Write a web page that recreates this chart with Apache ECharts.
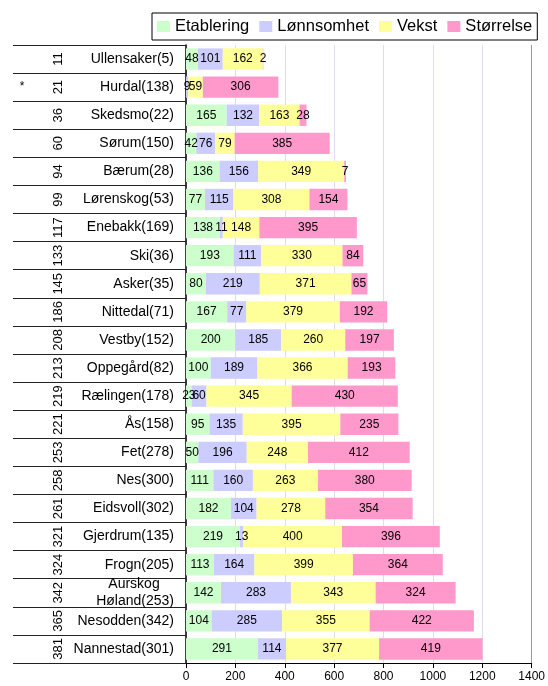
<!DOCTYPE html>
<html>
<head>
<meta charset="utf-8">
<script src="https://cdn.jsdelivr.net/npm/echarts@6/dist/echarts.min.js"></script>
<style>
  html, body { margin: 0; padding: 0; background: #fff; }
  #chart { width: 548px; height: 686px; }
</style>
</head>
<body>
<div id="chart"></div>
<script>
// Municipalities (with position in parentheses), listed top to bottom
const municipalities = [
  'Ullensaker(5)', 'Hurdal(138)', 'Skedsmo(22)', 'Sørum(150)', 'Bærum(28)',
  'Lørenskog(53)', 'Enebakk(169)', 'Ski(36)', 'Asker(35)', 'Nittedal(71)',
  'Vestby(152)', 'Oppegård(82)', 'Rælingen(178)', 'Ås(158)', 'Fet(278)',
  'Nes(300)', 'Eidsvoll(302)', 'Gjerdrum(135)', 'Frogn(205)', 'Aurskog\nHøland(253)',
  'Nesodden(342)', 'Nannestad(301)'
];
// Overall rank shown in the rotated column
const ranks = ['11', '21', '36', '60', '94', '99', '117', '133', '145', '186', '208',
  '213', '219', '221', '253', '258', '261', '321', '324', '342', '365', '381'];
// Marker column
const markers = ['', '*', '', '', '', '', '', '', '', '', '', '', '', '', '', '', '', '', '', '', '', ''];

const seriesNames = ['Etablering', 'Lønnsomhet', 'Vekst', 'Størrelse'];
const etablering = [48, null, 165, 42, 136, 77, 138, 193, 80, 167, 200, 100, 23, 95, 50, 111, 182, 219, 113, 142, 104, 291];
const lonnsomhet = [101, 9, 132, 76, 156, 115, 11, 111, 219, 77, 185, 189, 60, 135, 196, 160, 104, 13, 164, 283, 285, 114];
const vekst = [162, 59, 163, 79, 349, 308, 148, 330, 371, 379, 260, 366, 345, 395, 248, 263, 278, 400, 399, 343, 355, 377];
const storrelse = [2, 306, 28, 385, 7, 154, 395, 84, 65, 192, 197, 193, 430, 235, 412, 380, 354, 396, 364, 324, 422, 419];

const xTicks = { min: 0, max: 1400, interval: 200 };

const colors = ['#ccffcc', '#ccccff', '#ffff99', '#ff99cc'];
const FONT = '"Liberation Sans", Arial, sans-serif';

const chart = echarts.init(document.getElementById('chart'), null, { renderer: 'canvas' });

function barSeries(name, values, color) {
  return {
    name: name,
    type: 'bar',
    stack: 'total',
    yAxisIndex: 0,
    barCategoryGap: '24%',
    itemStyle: { color: color },
    label: {
      show: true,
      position: 'inside',
      color: '#000',
      fontFamily: FONT,
      fontSize: 12,
      formatter: p => (p.value == null ? '' : String(p.value))
    },
    emphasis: { disabled: true },
    data: values
  };
}

const splitColors = [];
for (let v = xTicks.min; v <= xTicks.max; v += xTicks.interval) {
  splitColors.push(v === xTicks.max ? '#999999' : '#dcdcf4');
}

chart.setOption({
  animation: false,
  textStyle: { fontFamily: FONT },
  legend: {
    data: seriesNames,
    left: 152,
    top: 13,
    padding: [5, 5, 5, 5],
    itemGap: 10,
    itemWidth: 13,
    itemHeight: 11,
    icon: 'rect',
    borderColor: '#000',
    borderWidth: 1,
    textStyle: { fontFamily: FONT, fontSize: 16.5, color: '#000', padding: [0, 0, 0, 0] }
  },
  grid: { left: 186, right: 13, top: 45, bottom: 23, containLabel: false },
  xAxis: {
    type: 'value',
    min: xTicks.min,
    max: xTicks.max,
    interval: xTicks.interval,
    axisLine: { show: true, lineStyle: { color: '#000', width: 1 } },
    axisTick: { show: true, length: 5, lineStyle: { color: '#000' } },
    axisLabel: { color: '#000', fontFamily: FONT, fontSize: 12, margin: 8, formatter: v => String(v) },
    splitLine: { show: true, lineStyle: { color: splitColors, width: 1 } }
  },
  yAxis: [
    {
      type: 'category',
      data: municipalities,
      inverse: true,
      axisLine: { show: true, onZero: false, lineStyle: { color: '#000', width: 1.5 } },
      axisTick: { show: true, length: 173, interval: 0, lineStyle: { color: '#222', width: 1 } },
      axisLabel: {
        interval: 0,
        color: '#000',
        fontFamily: FONT,
        fontSize: 14,
        margin: 12,
        formatter: function (v) {
          if (v.indexOf('\n') < 0) return v;
          const parts = v.split('\n');
          return '{c|' + parts[0] + '}\n{n|' + parts[1] + '}';
        },
        rich: {
          c: { fontFamily: FONT, fontSize: 14, color: '#000', width: 80, align: 'center', lineHeight: 17 },
          n: { fontFamily: FONT, fontSize: 14, color: '#000', width: 80, align: 'right', lineHeight: 17 }
        }
      },
      splitLine: { show: false }
    },
    {
      type: 'category',
      data: ranks,
      inverse: true,
      position: 'left',
      offset: 121,
      axisLine: { show: false },
      axisTick: { show: false },
      axisLabel: {
        interval: 0,
        hideOverlap: false,
        color: '#000',
        fontFamily: FONT,
        fontSize: 13,
        rotate: 90,
        margin: 0
      },
      splitLine: { show: false }
    },
    {
      type: 'category',
      data: markers,
      inverse: true,
      position: 'left',
      offset: 164,
      axisLine: { show: false },
      axisTick: { show: false },
      axisLabel: {
        interval: 0,
        color: '#000',
        fontFamily: FONT,
        fontSize: 12,
        margin: 0,
        align: 'center',
        verticalAlign: 'middle'
      },
      splitLine: { show: false }
    }
  ],
  series: [
    barSeries(seriesNames[0], etablering, colors[0]),
    barSeries(seriesNames[1], lonnsomhet, colors[1]),
    barSeries(seriesNames[2], vekst, colors[2]),
    barSeries(seriesNames[3], storrelse, colors[3])
  ]
});
</script>
</body>
</html>
